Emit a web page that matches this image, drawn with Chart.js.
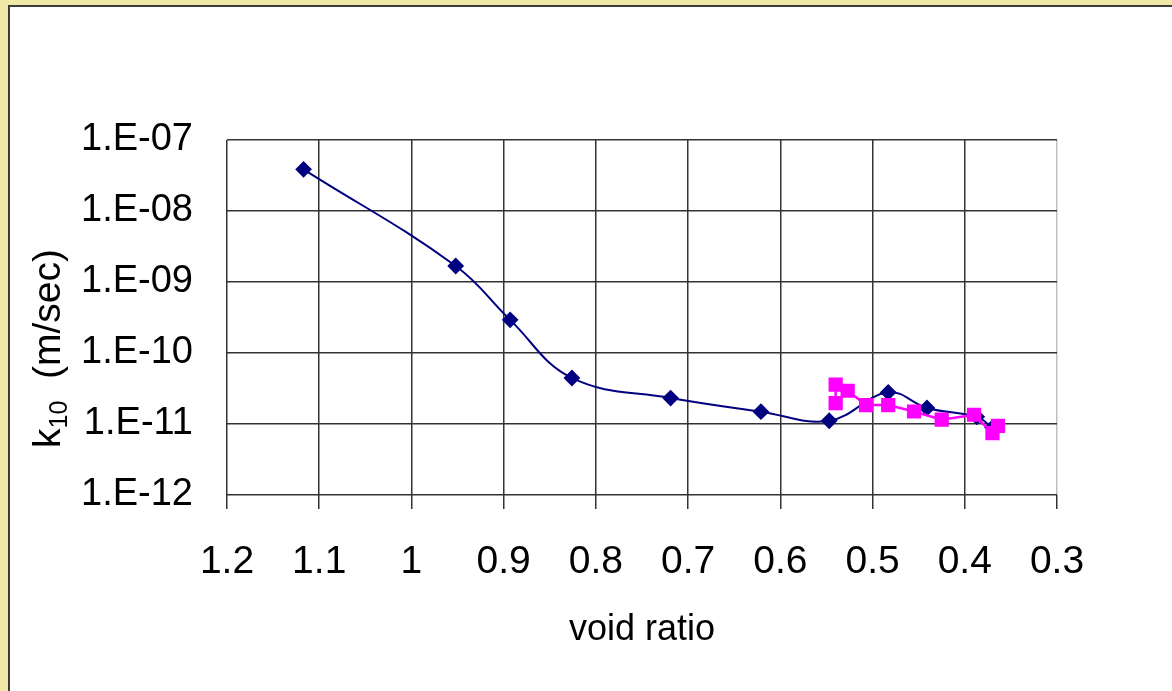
<!DOCTYPE html>
<html>
<head>
<meta charset="utf-8">
<script src="https://cdn.jsdelivr.net/npm/chart.js@4/dist/chart.umd.min.js"></script>
<style>
html,body{margin:0;padding:0;background:#f0e8a6;}
#wrap{position:absolute;left:0;top:0;width:1172px;height:691px;}
</style>
</head>
<body>
<div id="wrap"><canvas id="c" width="1172" height="691"></canvas></div>
<script>
// ---- data ----
const voidBlue = [1.117, 0.952, 0.893, 0.826, 0.719, 0.621, 0.547, 0.483, 0.441, 0.387, 0.370];
const kBlue    = [3.86e-8, 1.68e-9, 2.93e-10, 4.45e-11, 2.32e-11, 1.49e-11, 1.11e-11, 2.79e-11, 1.68e-11, 1.26e-11, 8.9e-12];
const voidPink = [0.540, 0.540, 0.527, 0.507, 0.483, 0.455, 0.425, 0.390, 0.370, 0.364];
const kPink    = [1.97e-11, 3.58e-11, 2.94e-11, 1.85e-11, 1.85e-11, 1.50e-11, 1.15e-11, 1.35e-11, 7.43e-12, 9.44e-12];
const yTickValues = [1e-12, 1e-11, 1e-10, 1e-9, 1e-8, 1e-7];
const yTickLabels = ['1.E-12', '1.E-11', '1.E-10', '1.E-09', '1.E-08', '1.E-07'];
const xTickValues = [1.2, 1.1, 1.0, 0.9, 0.8, 0.7, 0.6, 0.5, 0.4, 0.3];
const xTickLabels = ['1.2', '1.1', '1', '0.9', '0.8', '0.7', '0.6', '0.5', '0.4', '0.3'];
const xTitle = 'void ratio';
const yTitleMain = 'k';
const yTitleSub = '10';
const yTitleRest = '  (m/sec)';

const FONT = '"Liberation Sans", Arial, sans-serif';

const bgPlugin = {
  id: 'bg',
  beforeDraw(chart) {
    const ctx = chart.ctx;
    ctx.save();
    ctx.fillStyle = '#f0e8a6';
    ctx.fillRect(0, 0, chart.width, chart.height);
    ctx.fillStyle = '#ffffff';
    ctx.fillRect(9, 6, chart.width, chart.height);
    ctx.strokeStyle = '#3c3c3c';
    ctx.lineWidth = 2;
    ctx.strokeRect(9, 6, chart.width + 10, chart.height + 10);
    ctx.restore();
  }
};

const yTitlePlugin = {
  id: 'ytitle',
  afterDraw(chart) {
    const ctx = chart.ctx;
    ctx.save();
    ctx.translate(60, 448);
    ctx.rotate(-Math.PI / 2);
    ctx.fillStyle = '#000';
    ctx.textBaseline = 'alphabetic';
    ctx.textAlign = 'left';
    ctx.font = '39px ' + FONT;
    ctx.fillText(yTitleMain, 0, 0);
    let x = ctx.measureText(yTitleMain).width;
    ctx.font = '25px ' + FONT;
    ctx.fillText(yTitleSub, x, 7);
    x += ctx.measureText(yTitleSub).width;
    ctx.font = '39px ' + FONT;
    ctx.fillText(yTitleRest, x, 0);
    ctx.restore();
  }
};

new Chart(document.getElementById('c'), {
  type: 'scatter',
  data: {
    datasets: [
      {
        data: voidBlue.map((v, i) => ({x: v, y: kBlue[i]})),
        showLine: true,
        borderColor: '#000080',
        backgroundColor: '#000080',
        borderWidth: 2,
        tension: 0.4,
        pointStyle: 'rectRot',
        pointRadius: 7,
        pointHoverRadius: 7,
        order: 2
      },
      {
        data: voidPink.map((v, i) => ({x: v, y: kPink[i]})),
        showLine: true,
        borderColor: '#ff00ff',
        backgroundColor: '#ff00ff',
        borderWidth: 2.5,
        tension: 0,
        pointStyle: 'rect',
        pointRadius: 8.3,
        pointHoverRadius: 8.3,
        order: 1
      }
    ]
  },
  options: {
    responsive: false,
    animation: false,
    devicePixelRatio: 1,
    layout: {padding: {top: 140, right: 115, left: 0, bottom: 0}},
    plugins: {legend: {display: false}, tooltip: {enabled: false}},
    scales: {
      x: {
        type: 'linear',
        reverse: true,
        min: 0.3,
        max: 1.2,
        afterBuildTicks(s) { s.ticks = xTickValues.map(v => ({value: v})); },
        afterFit(s) { s.height = 196; },
        ticks: {
          autoSkip: false,
          maxRotation: 0,
          padding: 30,
          color: '#000',
          font: {family: FONT, size: 39},
          callback(v) {
            const i = xTickValues.findIndex(t => Math.abs(t - v) < 1e-6);
            return i >= 0 ? xTickLabels[i] : '';
          }
        },
        grid: {
          color: ctx => (ctx.tick && Math.abs(ctx.tick.value - 0.3) < 1e-6) ? '#c0c0c0' : '#333333',
          tickColor: '#333333',
          lineWidth: 1.5,
          tickLength: 14,
          drawTicks: true
        },
        border: {display: false},
        title: {
          display: true,
          text: xTitle,
          color: '#000',
          font: {family: FONT, size: 36},
          padding: {top: 0, bottom: 39}
        }
      },
      y: {
        type: 'logarithmic',
        min: 1e-12,
        max: 1e-7,
        afterBuildTicks(s) { s.ticks = yTickValues.map(v => ({value: v})); },
        afterFit(s) { s.width = 227; },
        ticks: {
          autoSkip: false,
          padding: 34,
          color: '#000',
          font: {family: FONT, size: 38},
          callback(v) {
            const i = yTickValues.findIndex(t => Math.abs(Math.log10(t) - Math.log10(v)) < 1e-6);
            return i >= 0 ? yTickLabels[i] : '';
          }
        },
        grid: {color: '#333333', lineWidth: 1.5, drawTicks: false},
        border: {display: false}
      }
    }
  },
  plugins: [bgPlugin, yTitlePlugin]
});
</script>
</body>
</html>
